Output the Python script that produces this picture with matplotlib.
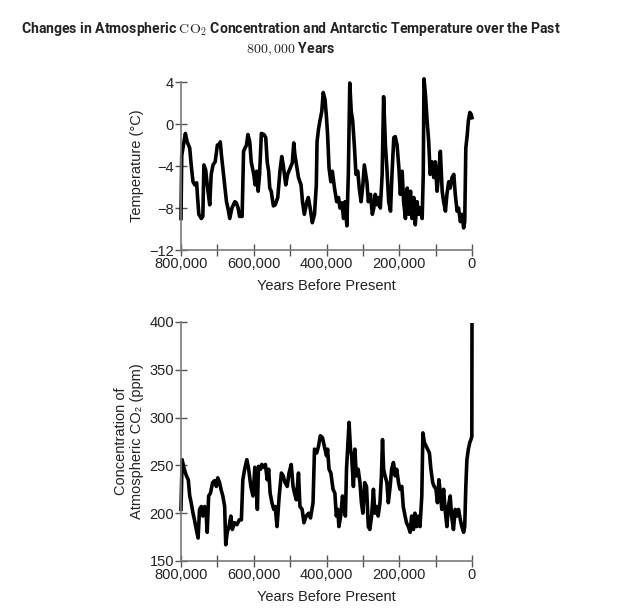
import matplotlib
matplotlib.use('Agg')
import matplotlib.pyplot as plt
from matplotlib.ticker import MultipleLocator, FuncFormatter

# Antarctic temperature (deg C) vs years before present
temp_years = [800, 799, 798, 788, 783, 776, 772, 767, 762, 757, 755, 751, 744, 740,
              737, 732, 728, 721, 717, 712, 706, 700, 696, 692, 689, 684, 680, 675,
              671, 666, 660, 652, 648, 643, 639, 632, 628, 620, 616, 611, 607, 600,
              596, 592, 588, 584, 579, 572, 567, 563, 559, 556, 552, 546, 541, 534,
              528, 523, 519, 512, 507, 500, 494, 490, 487, 482, 477, 470, 466, 461,
              454, 450, 445, 439, 433, 428, 426, 422, 418, 413, 409, 404, 400, 397,
              393, 388, 384, 378, 372, 367, 363, 358, 353, 349, 344, 340, 336, 332,
              328, 323, 319, 314, 310, 305, 300, 296, 289, 285, 279, 274, 270, 266,
              261, 257, 252, 247, 243, 238, 234, 229, 224, 220, 215, 211, 206, 201,
              197, 192, 188, 183, 178, 174, 169, 165, 160, 156, 151, 147, 142, 137,
              134, 132, 128, 124, 119, 115, 110, 105, 101, 96, 92, 87, 82, 78, 73,
              69, 64, 60, 55, 50, 46, 41, 37, 32, 27, 23, 20, 17, 13, 10, 6, 2, 0]
temp_vals = [-9.0, -5.8, -3.0, -0.9, -1.7, -2.3, -3.9, -5.5, -5.8, -5.6, -6.7, -8.6,
             -9.0, -8.8, -3.9, -4.4, -5.8, -7.7, -4.8, -3.9, -3.6, -2.0, -2.1, -1.7,
             -2.9, -4.5, -5.8, -7.4, -8.0, -9.0, -8.0, -7.4, -7.5, -8.0, -8.8, -8.8,
             -2.6, -2.0, -1.0, -1.7, -3.6, -4.8, -5.8, -4.5, -6.4, -4.8, -0.9, -1.0,
             -1.3, -3.6, -4.5, -6.1, -6.4, -7.8, -7.7, -7.0, -4.5, -3.1, -3.9, -5.8,
             -4.8, -4.2, -3.7, -1.8, -2.9, -4.0, -5.1, -5.8, -7.4, -8.6, -7.4, -7.0,
             -8.0, -9.4, -8.6, -5.8, -1.7, -0.5, 0.3, 1.2, 3.0, 2.3, 0.6, -1.0, -4.2,
             -5.5, -4.5, -6.1, -7.4, -7.0, -8.0, -7.5, -9.0, -7.4, -9.7, -4.8, 3.9,
             1.2, 0.3, -2.3, -4.8, -4.5, -6.1, -7.4, -5.8, -3.9, -5.5, -7.4, -6.7,
             -8.6, -8.0, -6.7, -7.7, -7.0, -8.0, -4.8, 2.6, -2.0, -4.2, -7.4, -8.3,
             -4.8, -1.3, -1.2, -2.0, -4.2, -6.7, -4.5, -7.4, -9.0, -6.1, -8.6, -6.4,
             -9.0, -7.0, -9.6, -7.4, -8.6, -8.0, -9.0, -4.8, 4.3, 2.8, 0.6, -1.7,
             -4.8, -3.6, -5.1, -3.6, -6.4, -4.8, -2.6, -6.4, -7.4, -8.3, -6.7, -5.5,
             -6.1, -5.1, -4.8, -6.7, -8.3, -8.0, -9.3, -8.6, -9.9, -9.3, -2.3, -1.0,
             0.3, 1.1, 0.9, 0.6]

# atmospheric CO2 (ppm) vs years before present
co2_years = [800, 797, 791, 785, 780, 776, 772, 767, 763, 758, 753, 749, 744, 740,
             735, 731, 728, 724, 719, 713, 708, 703, 699, 694, 690, 685, 680, 677,
             673, 668, 663, 659, 653, 646, 640, 634, 630, 625, 619, 614, 608, 602,
             597, 593, 590, 587, 581, 578, 572, 568, 563, 559, 555, 550, 545, 541,
             536, 530, 524, 519, 514, 508, 503, 497, 492, 488, 483, 477, 473, 467,
             462, 456, 449, 444, 437, 433, 427, 422, 417, 411, 406, 400, 397, 393,
             388, 382, 377, 373, 369, 366, 361, 356, 352, 348, 345, 342, 338, 334,
             331, 326, 322, 318, 313, 308, 304, 300, 295, 290, 285, 281, 276, 271,
             267, 262, 258, 253, 249, 246, 243, 239, 234, 230, 225, 221, 216, 211,
             207, 202, 198, 193, 189, 184, 180, 175, 170, 166, 161, 157, 152, 147,
             143, 138, 135, 131, 126, 122, 117, 113, 108, 104, 99, 95, 91, 87, 83,
             78, 74, 69, 65, 60, 56, 51, 46, 42, 37, 32, 28, 23, 20, 17, 14, 10, 6,
             3, 0.5, 0]
co2_vals = [204, 256, 246, 239, 235, 218, 211, 200, 193, 183, 174, 204, 207, 197,
            207, 200, 180, 218, 221, 232, 234, 228, 237, 232, 225, 218, 207, 167,
            180, 186, 197, 183, 190, 188, 193, 193, 235, 246, 256, 246, 228, 218,
            248, 225, 204, 249, 246, 251, 248, 251, 235, 246, 221, 211, 204, 207,
            186, 218, 242, 239, 232, 228, 242, 251, 228, 221, 214, 242, 207, 204,
            190, 197, 200, 195, 211, 267, 263, 270, 281, 279, 270, 260, 267, 246,
            242, 225, 221, 197, 204, 186, 197, 218, 204, 197, 246, 267, 295, 267,
            260, 228, 267, 239, 246, 232, 211, 200, 232, 228, 186, 183, 197, 225,
            200, 207, 197, 211, 239, 277, 246, 239, 232, 211, 228, 246, 253, 239,
            246, 232, 225, 228, 207, 197, 190, 186, 180, 197, 183, 200, 186, 197,
            186, 218, 284, 274, 270, 267, 263, 246, 232, 228, 225, 211, 235, 221,
            204, 225, 204, 186, 207, 218, 197, 183, 204, 197, 204, 193, 186, 180,
            186, 228, 256, 267, 274, 277, 280, 397]

plt.rcParams['font.family'] = ['Liberation Sans', 'DejaVu Sans']
plt.rcParams['mathtext.fontset'] = 'cm'

gray = '#7a7a7a'
txt = '#222222'


def fmt_years(x, pos):
    if round(x) % 200000 != 0:
        return ''
    return f'{int(round(x)):,}'


def style(ax, ylim, ystep):
    ax.set_xlim(800000, 0)
    ax.set_ylim(*ylim)
    ax.spines['top'].set_visible(False)
    ax.spines['right'].set_visible(False)
    for s in ['left', 'bottom']:
        ax.spines[s].set_color(gray)
        ax.spines[s].set_linewidth(1.2)
    ax.xaxis.set_major_locator(MultipleLocator(100000))
    ax.xaxis.set_major_formatter(FuncFormatter(fmt_years))
    ax.yaxis.set_major_locator(MultipleLocator(ystep))
    ax.tick_params(direction='inout', length=8, width=1, color='#555555',
                   labelsize=10.5, labelcolor=txt, pad=1)
    ax.set_xlabel('Years Before Present', fontsize=10.5, color=txt, labelpad=6)


fig = plt.figure(figsize=(6.25, 6.15), dpi=100)

ax1 = fig.add_axes([181 / 625, 1 - 250 / 615, 291 / 625, 168 / 615])
ax1.plot([y * 1000 for y in temp_years], temp_vals, c='k', lw=2.6,
         solid_joinstyle='round', clip_on=False)
style(ax1, (-12, 4), 4)
ax1.set_ylabel('Temperature (°C)', fontsize=10.5, color=txt, labelpad=4)

ax2 = fig.add_axes([181 / 625, 1 - 561 / 615, 291 / 625, 239 / 615])
ax2.plot([y * 1000 for y in co2_years], co2_vals, c='k', lw=2.6,
         solid_joinstyle='round', clip_on=False)
style(ax2, (150, 400), 50)
ax2.set_ylabel('Concentration of\nAtmospheric CO₂ (ppm)', fontsize=10.5,
               color=txt, labelpad=4, linespacing=1.15)

fig.text(291 / 625, 1 - 39 / 615,
         r'Changes in Atmospheric $\mathrm{CO_2}$ Concentration and Antarctic Temperature over the Past'
         '\n' r'$800,000$ Years',
         ha='center', va='center', multialignment='center', family='Roboto',
         fontweight='bold', fontsize=10.1, color=txt, linespacing=1.25)

fig.savefig('out.png', dpi=100, facecolor='white')
